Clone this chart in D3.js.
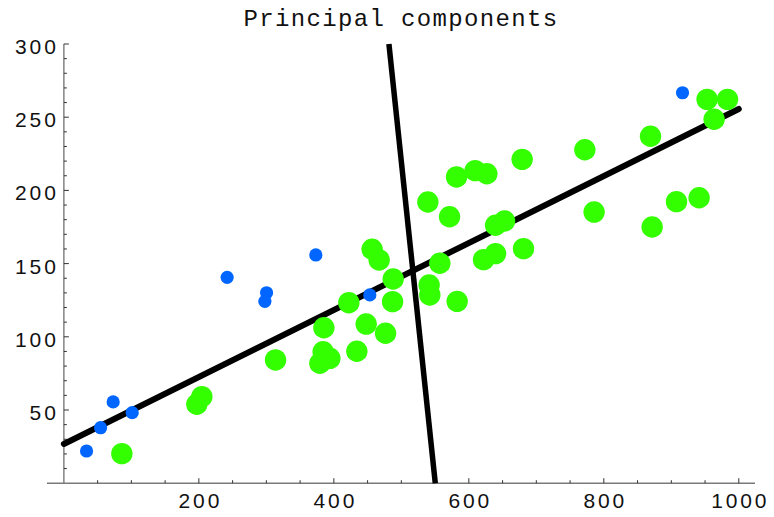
<!DOCTYPE html>
<html>
<head>
<meta charset="utf-8">
<script src="https://cdn.jsdelivr.net/npm/d3@7"></script>
<style>
  html, body { margin: 0; padding: 0; background: #fff; }
  svg { display: block; }
</style>
</head>
<body>
<svg id="chart" width="774" height="517"></svg>
<script>
// Observations: blue set (small markers)
const blueX = [33.6, 54.4, 73.0, 101.2, 241.9, 300.3, 297.8, 373.3, 453.3, 916.6];
const blueY = [22.0, 37.9, 55.5, 48.2, 140.6, 130.1, 124.2, 155.9, 128.6, 266.7];

// Observations: green set (large markers)
const greenX = [85.9, 197.0, 204.4, 313.6, 385.2, 384.1, 394.1, 379.3, 422.2, 447.9,
                476.6, 434.1, 456.7, 467.1, 487.9, 487.0, 557.0, 541.2, 542.2, 582.7,
                539.3, 571.4, 581.8, 609.3, 626.7, 679.0, 771.9, 869.2, 953.0, 983.3,
                963.4, 639.6, 652.9, 785.6, 907.7, 941.2, 871.6, 681.0, 621.8, 639.6];
const greenY = [20.2, 53.9, 59.1, 84.2, 106.2, 89.8, 85.3, 81.9, 123.3, 108.7,
                102.4, 90.1, 159.8, 152.5, 139.5, 124.0, 150.2, 135.4, 128.6, 124.2,
                192.1, 182.0, 209.2, 213.5, 211.4, 221.2, 227.8, 237.0, 262.2, 262.2,
                248.6, 176.2, 179.1, 185.2, 192.3, 195.0, 175.0, 160.2, 152.7, 156.8];

// Principal component axes (end points in data units)
const pc1X = [0, 1000];
const pc1Y = [26.8, 255.6];
const pc2X = [481.6, 550.3];
const pc2Y = [300, 0];

// Axis ticks
const xMajorTicks = [200, 400, 600, 800, 1000];
const yMajorTicks = [50, 100, 150, 200, 250, 300];
const xMinorTicks = d3.range(50, 1001, 50).filter(v => v % 200 !== 0);
const yMinorTicks = d3.range(10, 301, 10).filter(v => v % 50 !== 0);

const title = "Principal components";

const svg = d3.select("#chart");

const x = d3.scaleLinear().domain([-25, 1024]).range([47, 755]);
const y = d3.scaleLinear().domain([0, 300]).range([483.2, 44]);

// Title
svg.append("text")
  .attr("x", 401)
  .attr("y", 26)
  .attr("text-anchor", "middle")
  .attr("font-family", "'Liberation Mono', 'Courier New', monospace")
  .attr("font-size", 24)
  .attr("letter-spacing", 1.35)
  .attr("fill", "#111")
  .text(title);

// Axes
const axisG = svg.append("g");
axisG.append("line")
  .attr("x1", x(-25)).attr("x2", x(1024))
  .attr("y1", y(0)).attr("y2", y(0))
  .attr("stroke", "#7a7a7a").attr("stroke-width", 1.4);
axisG.append("line")
  .attr("x1", x(0)).attr("x2", x(0))
  .attr("y1", y(0)).attr("y2", y(300))
  .attr("stroke", "#7a7a7a").attr("stroke-width", 1.4);

// x ticks (pointing upward)
axisG.selectAll(".xmaj").data(xMajorTicks).enter().append("line")
  .attr("x1", d => x(d)).attr("x2", d => x(d))
  .attr("y1", y(0)).attr("y2", y(0) - 5)
  .attr("stroke", "#333").attr("stroke-width", 1);
axisG.selectAll(".xmin").data(xMinorTicks).enter().append("line")
  .attr("x1", d => x(d)).attr("x2", d => x(d))
  .attr("y1", y(0)).attr("y2", y(0) - 3)
  .attr("stroke", "#333").attr("stroke-width", 1);

// y ticks (pointing right)
axisG.selectAll(".ymaj").data(yMajorTicks).enter().append("line")
  .attr("x1", x(0)).attr("x2", x(0) + 5)
  .attr("y1", d => y(d)).attr("y2", d => y(d))
  .attr("stroke", "#333").attr("stroke-width", 1);
axisG.selectAll(".ymin").data(yMinorTicks).enter().append("line")
  .attr("x1", x(0)).attr("x2", x(0) + 3)
  .attr("y1", d => y(d)).attr("y2", d => y(d))
  .attr("stroke", "#333").attr("stroke-width", 1);

const labelFont = "'Liberation Sans', Arial, sans-serif";
axisG.selectAll(".xlab").data(xMajorTicks).enter().append("text")
  .attr("x", d => x(d) + 1.5)
  .attr("y", 507.7)
  .attr("text-anchor", "middle")
  .attr("font-family", labelFont)
  .attr("font-size", 21)
  .attr("letter-spacing", 2.9)
  .attr("fill", "#111")
  .text(d => d);
axisG.selectAll(".ylab").data(yMajorTicks).enter().append("text")
  .attr("x", x(0) - 8 + 2.9)
  .attr("y", d => y(d) + 10)
  .attr("text-anchor", "end")
  .attr("font-family", labelFont)
  .attr("font-size", 21)
  .attr("letter-spacing", 2.9)
  .attr("fill", "#111")
  .text(d => d);

// Component lines
const line = d3.line().x(d => x(d[0])).y(d => y(d[1]));
svg.append("path")
  .datum(pc1X.map((v, i) => [v, pc1Y[i]]))
  .attr("d", line)
  .attr("fill", "none")
  .attr("stroke", "#000")
  .attr("stroke-width", 6)
  .attr("stroke-linecap", "round");
svg.append("path")
  .datum(pc2X.map((v, i) => [v, pc2Y[i]]))
  .attr("d", line)
  .attr("fill", "none")
  .attr("stroke", "#000")
  .attr("stroke-width", 5.5)
  .attr("stroke-linecap", "butt");

// Points
svg.append("g").selectAll("circle")
  .data(greenX.map((v, i) => [v, greenY[i]]))
  .enter().append("circle")
  .attr("cx", d => x(d[0]))
  .attr("cy", d => y(d[1]))
  .attr("r", 10.7)
  .attr("fill", "#33ff00");
svg.append("g").selectAll("circle")
  .data(blueX.map((v, i) => [v, blueY[i]]))
  .enter().append("circle")
  .attr("cx", d => x(d[0]))
  .attr("cy", d => y(d[1]))
  .attr("r", 6.6)
  .attr("fill", "#0066ff");
</script>
</body>
</html>
